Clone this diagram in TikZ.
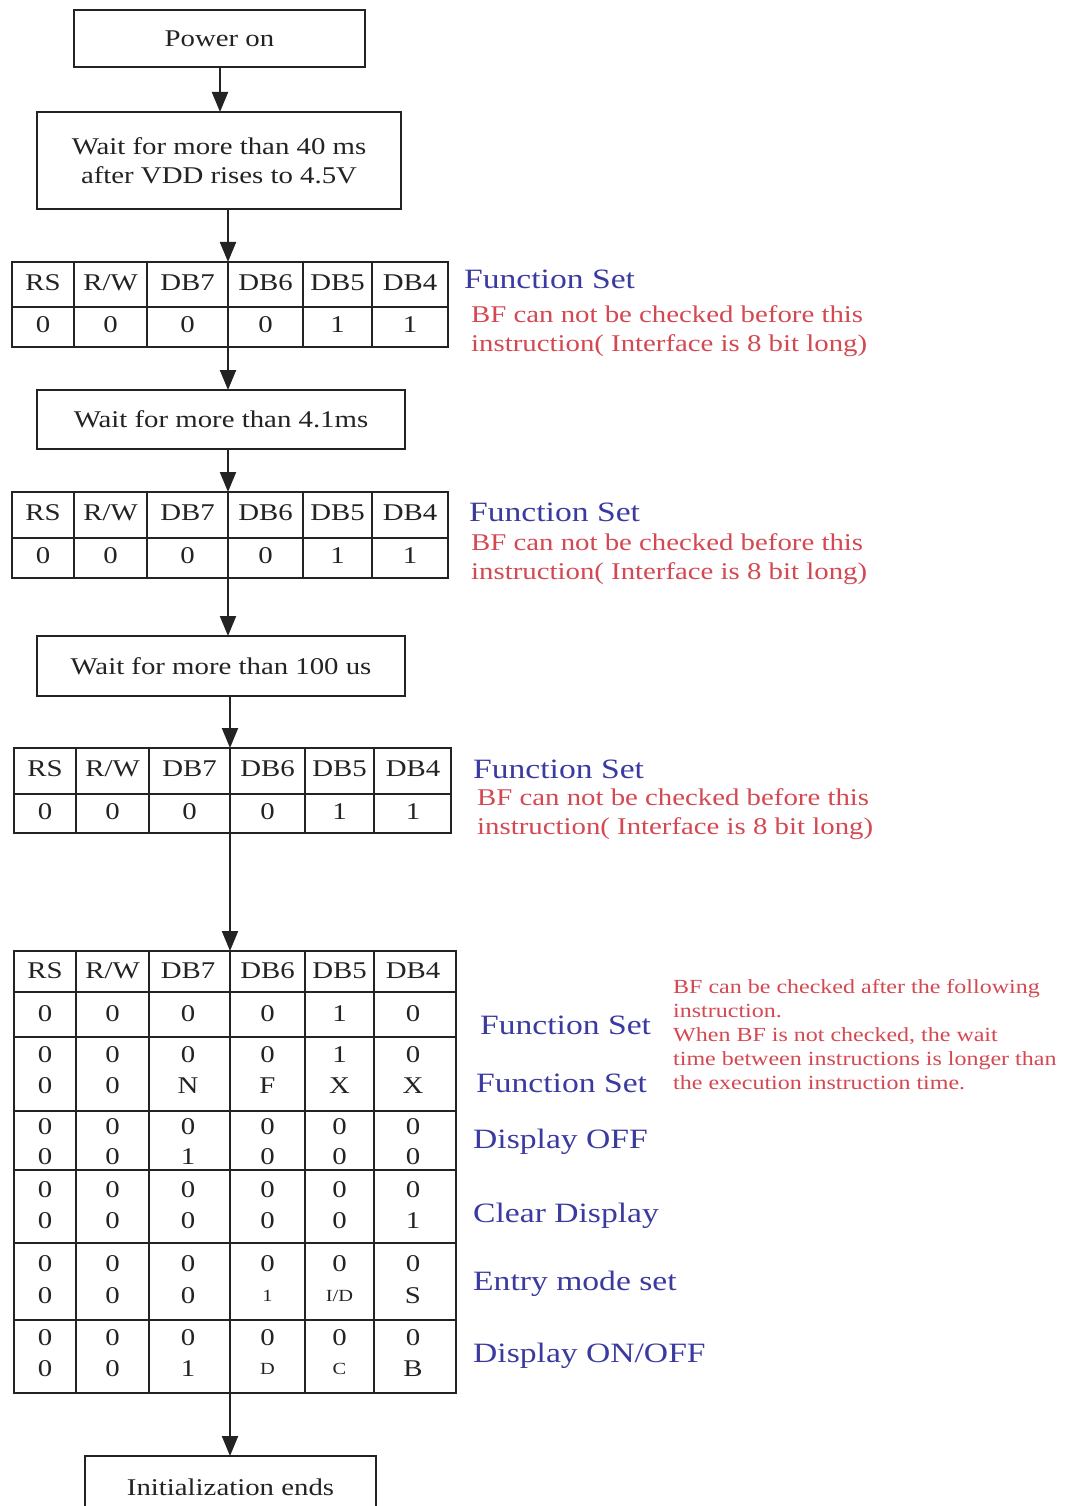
\documentclass[tikz,border=0pt]{standalone}
\usepackage{fontspec}
\setmainfont{Liberation Serif}[FakeStretch=1.2]
\usetikzlibrary{arrows.meta}
\definecolor{fsblue}{RGB}{58,58,160}
\definecolor{bfred}{RGB}{212,72,82}
\definecolor{ink}{RGB}{35,35,35}
\newcommand\sz[1]{\fontsize{#1}{#1}\selectfont}
\newcommand\trow[4]{\foreach \t [count=\i] in {#4} {\pgfmathsetmacro\cx{{#3}[\i-1]}\node[cell] (#1-\i) at (\cx,#2) {\t};}}
\begin{document}
\begin{tikzpicture}[x=1pt,y=-1pt,
  box/.style={draw=ink, line width=1.8pt, rectangle, inner sep=0pt, outer sep=0pt, anchor=north west, text=ink, font=\sz{24}},
  tbl/.style={draw=ink, line width=1.8pt, rectangle, inner sep=0pt, outer sep=0pt, anchor=north west},
  grid/.style={draw=ink, line width=1.8pt},
  cell/.style={text=ink, font=\sz{24}, inner sep=0pt},
  arr/.style={draw=ink, line width=2pt, -{Triangle[length=20pt,width=16pt]}},
  lbl/.style={text=fsblue, font=\sz{28}, anchor=base west, inner sep=0pt},
  note/.style={text=bfred, font=\sz{24}, anchor=base west, inner sep=0pt},
  snote/.style={text=bfred, font=\sz{20}, anchor=base west, inner sep=0pt},
]
\useasboundingbox[fill=white] (0,0) rectangle (1075,1506);

% boxes
\node[box, minimum width=291pt, minimum height=57pt] (pow) at (74,10) {Power on};
\node[box, minimum width=364pt, minimum height=97pt, align=center, font=\fontsize{24}{29}\selectfont] (w1) at (37,112) {Wait for more than 40 ms\\after VDD rises to 4.5V};
\node[box, minimum width=368pt, minimum height=59pt] (w2) at (37,390) {Wait for more than 4.1ms};
\node[box, minimum width=368pt, minimum height=60pt] (w3) at (37,636) {Wait for more than 100 us};
\node[box, minimum width=291pt, minimum height=62pt] (fin) at (85,1456) {Initialization ends};

% table 1
\node[tbl, minimum width=436pt, minimum height=85pt] (t1) at (12,262) {};
\foreach \c in {74,147,228,303,372} \draw[grid] (\c,262) -- (\c,347);
\draw[grid] (12,307) -- (448,307);
\trow{t1h}{283}{43,110.5,187.5,265.5,337.5,410}{RS,{R/W},DB7,DB6,DB5,DB4}
\trow{t1d}{325}{43,110.5,187.5,265.5,337.5,410}{0,0,0,0,1,1}

% table 2
\node[tbl, minimum width=436pt, minimum height=86pt] (t2) at (12,492) {};
\foreach \c in {74,147,228,303,372} \draw[grid] (\c,492) -- (\c,578);
\draw[grid] (12,538) -- (448,538);
\trow{t2h}{513}{43,110.5,187.5,265.5,337.5,410}{RS,{R/W},DB7,DB6,DB5,DB4}
\trow{t2d}{556}{43,110.5,187.5,265.5,337.5,410}{0,0,0,0,1,1}

% table 3
\node[tbl, minimum width=437pt, minimum height=85pt] (t3) at (14,748) {};
\foreach \c in {76,149,230,305,374} \draw[grid] (\c,748) -- (\c,833);
\draw[grid] (14,794) -- (451,794);
\trow{t3h}{769}{45,112.5,189.5,267.5,339.5,413}{RS,{R/W},DB7,DB6,DB5,DB4}
\trow{t3d}{812}{45,112.5,189.5,267.5,339.5,413}{0,0,0,0,1,1}

% table 4
\node[tbl, minimum width=442pt, minimum height=442pt] (t4) at (14,951) {};
\foreach \c in {76,149,230,305,374} \draw[grid] (\c,951) -- (\c,1393);
\foreach \r in {992,1037,1111,1170,1243,1320} \draw[grid] (14,\r) -- (456,\r);
\trow{t4h}{971}{45,112.5,188,267.5,339.5,413}{RS,{R/W},DB7,DB6,DB5,DB4}
\trow{t4a}{1014}{45,112.5,188,267.5,339.5,413}{0,0,0,0,1,0}
\trow{t4b}{1055}{45,112.5,188,267.5,339.5,413}{0,0,0,0,1,0}
\trow{t4c}{1086}{45,112.5,188,267.5,339.5,413}{0,0,N,F,X,X}
\trow{t4d}{1127}{45,112.5,188,267.5,339.5,413}{0,0,0,0,0,0}
\trow{t4e}{1157}{45,112.5,188,267.5,339.5,413}{0,0,1,0,0,0}
\trow{t4f}{1190}{45,112.5,188,267.5,339.5,413}{0,0,0,0,0,0}
\trow{t4g}{1221}{45,112.5,188,267.5,339.5,413}{0,0,0,0,0,1}
\trow{t4i}{1264}{45,112.5,188,267.5,339.5,413}{0,0,0,0,0,0}
\trow{t4j}{1296}{45,112.5,188,267.5,339.5,413}{0,0,0,{\sz{17}1},{\sz{17}I/D},S}
\trow{t4k}{1338}{45,112.5,188,267.5,339.5,413}{0,0,0,0,0,0}
\trow{t4l}{1369}{45,112.5,188,267.5,339.5,413}{0,0,1,{\sz{17}D},{\sz{17}C},B}

% arrows
\coordinate (a1) at (220,0);
\coordinate (a2) at (228,0);
\coordinate (a3) at (230,0);
\draw[arr] (pow.south -| a1) -- (w1.north -| a1);
\draw[arr] (w1.south -| a2) -- (t1.north -| a2);
\draw[arr] (t1.south -| a2) -- (w2.north -| a2);
\draw[arr] (w2.south -| a2) -- (t2.north -| a2);
\draw[arr] (t2.south -| a2) -- (w3.north -| a2);
\draw[arr] (w3.south -| a3) -- (t3.north -| a3);
\draw[arr] (t3.south -| a3) -- (t4.north -| a3);
\draw[arr] (t4.south -| a3) -- (fin.north -| a3);

% annotations
\node[lbl] (fs1) at (464,288) {Function Set};
\node[note] (n1a) at (471,322) {BF can not be checked before this};
\node[note] (n1b) at (471,351) {instruction( Interface is 8 bit long)};
\node[lbl] (fs2) at (469,521) {Function Set};
\node[note] (n2a) at (471,550) {BF can not be checked before this};
\node[note] (n2b) at (471,579) {instruction( Interface is 8 bit long)};
\node[lbl] (fs3) at (473,778) {Function Set};
\node[note] (n3a) at (477,805) {BF can not be checked before this};
\node[note] (n3b) at (477,834) {instruction( Interface is 8 bit long)};

\node[lbl] (l1) at (480,1034) {Function Set};
\node[lbl] (l2) at (476,1092) {Function Set};
\node[lbl] (l3) at (473,1148) {Display OFF};
\node[lbl] (l4) at (473,1222) {Clear Display};
\node[lbl] (l5) at (473,1290) {Entry mode set};
\node[lbl] (l6) at (473,1362) {Display ON/OFF};

\node[snote] (s1) at (673,993) {BF can be checked after the following};
\node[snote] (s2) at (673,1017) {instruction.};
\node[snote] (s3) at (673,1041) {When BF is not checked, the wait};
\node[snote] (s4) at (673,1065) {time between instructions is longer than};
\node[snote] (s5) at (673,1089) {the execution instruction time.};
\end{tikzpicture}
\end{document}
